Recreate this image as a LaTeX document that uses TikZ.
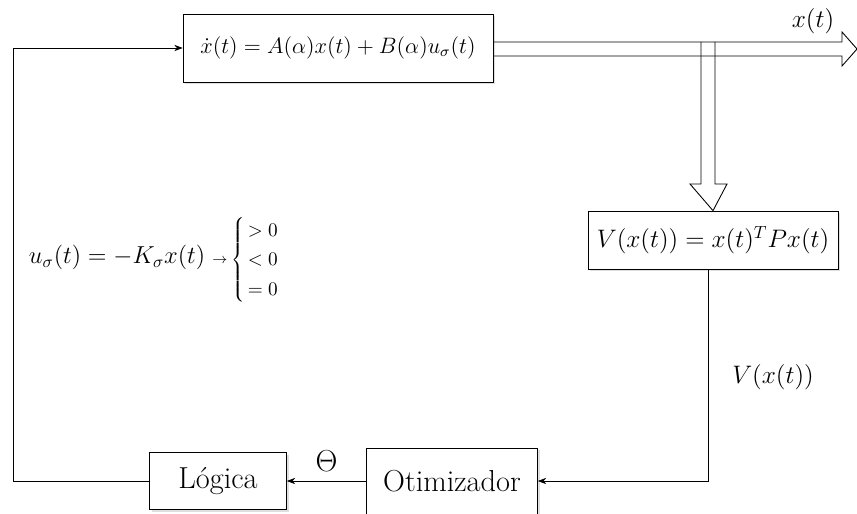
\documentclass[tikz,border=0pt]{standalone}
\usepackage{amsmath,amssymb}
\usepackage{graphicx}
\usepackage{tikz}
\usetikzlibrary{arrows.meta,positioning,calc,shadows}

\begin{document}
\begin{tikzpicture}[
    x=0.02cm, y=-0.02cm,
    >=Stealth,
    block/.style={draw, fill=white, inner sep=2pt,
      drop shadow={opacity=0.25, shadow xshift=1.2pt, shadow yshift=-1.2pt}},
    fat/.style={draw, line width=0.5pt},
    lbl/.style={font=\Large},
]
  \useasboundingbox (0,0) rectangle (857,513);

  % blocks
  \node[block, minimum width=6.2cm, minimum height=1.36cm, font=\large] (sys) at (338,48)
    {\scalebox{1.06}{$\dot{x}(t) = A(\alpha)x(t) + B(\alpha)u_{\sigma}(t)$}};
  \node[block, minimum width=5cm, minimum height=1.16cm, font=\Large] (lyap) at (713,240)
    {$V(x(t)) = x(t)^{T}Px(t)$};
  \node[block, minimum width=3.42cm, minimum height=1.32cm, font=\LARGE] (otim) at (452,481) {Otimizador};
  \node[block, minimum width=2.74cm, minimum height=1.14cm, font=\LARGE] (logica) at (218,481) {Lógica};

  % fat output arrow and fat branch arrow
  \coordinate (tip) at (857,49);
  \draw[fat] (sys.east |- 0,42) -- (842,42) -- (842,32) -- (tip) -- (842,66) -- (842,56) -- (sys.east |- 0,56);
  \draw[fat] (701,42) -- (701,184) -- (690,184) -- (lyap.north) -- (727,184) -- (715,184) -- (715,42);
  \node[lbl] (xlbl) at (813,21) {$x(t)$};

  % feedback path
  \coordinate (corner1) at (708,481);
  \coordinate (corner2) at (13,481);
  \coordinate (corner3) at (13,48);
  \draw[->] (lyap.south -| corner1) -- (corner1) -- (otim.east);
  \node[lbl] (vlbl) at (773,377) {$V(x(t))$};
  \draw[->] (otim.west) -- node[above=2pt, font=\LARGE] {$\Theta$} (logica.east);
  \draw[->] (logica.west) -- (corner2) -- (corner3) -- (sys.west);

  % control law
  \node[font=\Large] (law) at (164,260)
    {\scalebox{0.97}{$u_{\sigma}(t) = -K_{\sigma}x(t)$}\;\mbox{\fontsize{10.95}{14}\selectfont$\scriptstyle\rightarrow\;\begin{cases}\,>0\\ \,<0\\ \,=0 \end{cases}$}};
\end{tikzpicture}
\end{document}
